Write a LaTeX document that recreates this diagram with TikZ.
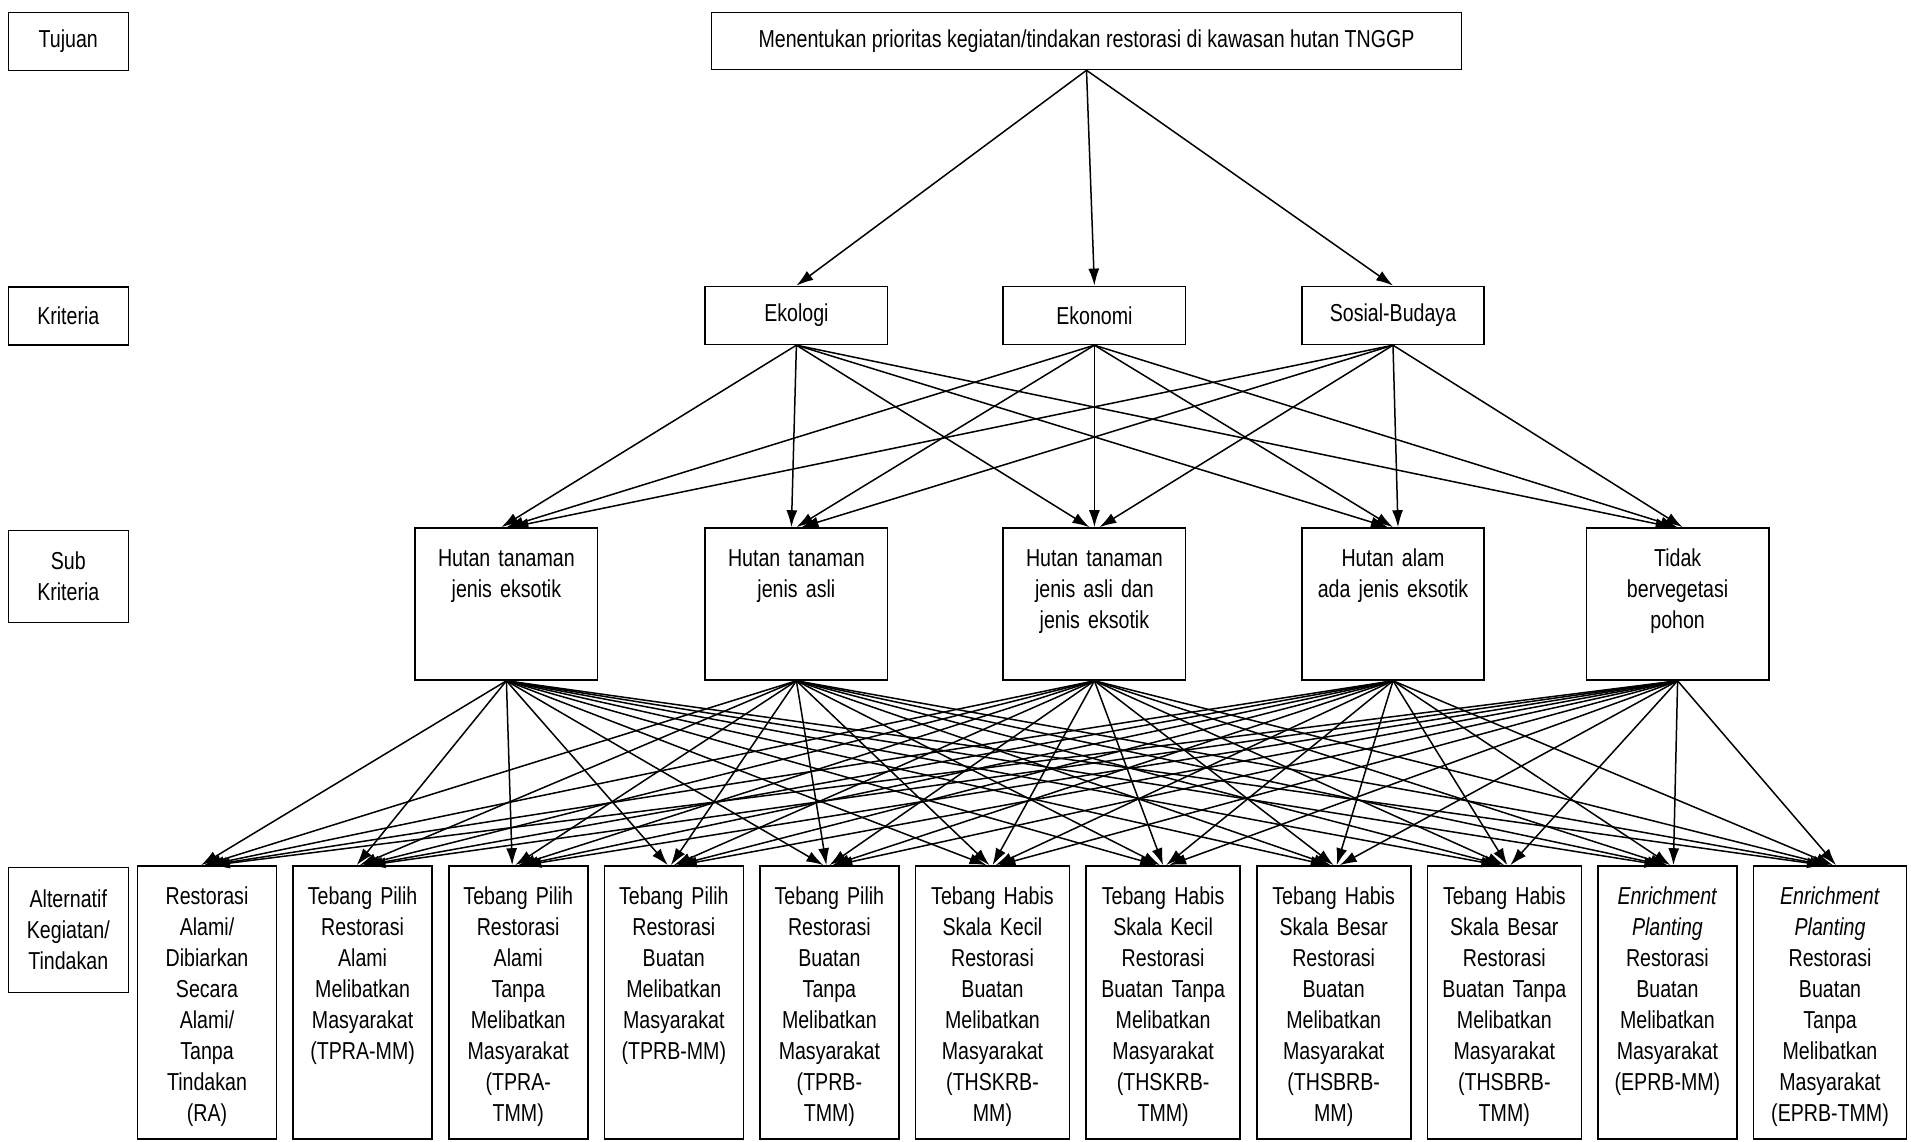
\documentclass[tikz,border=0pt]{standalone}
\usepackage{fontspec}
\setmainfont{Liberation Sans}[FakeStretch=0.8]
\usetikzlibrary{arrows.meta,positioning}

\begin{document}
\begin{tikzpicture}[x=1pt,y=-1pt]
        \tikzset{lbox/.style= {draw, line width=1.6pt, align=center, minimum width=120pt, font=\fontsize{24.5}{31}\selectfont},
        kbox/.style= {draw, line width=1.6pt, align=center, minimum width=182.5pt, minimum height=58pt, font=\fontsize{24.5}{31}\selectfont},
        sbox/.style= {draw, line width=1.6pt, align=center, text width=182.5pt, inner xsep=0pt, inner ysep=0pt,
                      text height=38pt, text depth=114pt, font=\fontsize{24.5}{31}\selectfont},
        abox/.style= {draw, line width=1.6pt, align=center, text width=139pt, inner xsep=0pt, inner ysep=0pt,
                      text height=38pt, text depth=235pt, font=\fontsize{24.5}{31}\selectfont},
        conn/.style={draw, line width=1.5pt, -{Latex[length=17pt,width=11pt]}}
        }
        \useasboundingbox (0,0) rectangle (1911,1142);

        % level labels
        \node [lbox, minimum height=58pt] (l_tujuan) at (68.3,41.5) {Tujuan};
        \node [lbox, minimum height=58pt] (l_kriteria) at (68.3,316) {Kriteria};
        \node [lbox, minimum height=92pt] (l_sub) at (68.3,576.5) {Sub\\Kriteria};
        \node [lbox, minimum height=125pt] (l_alt) at (68.3,930) {Alternatif\\Kegiatan/\\Tindakan};

        \node [kbox, minimum width=750pt, minimum height=57pt] (goal) at (1086.5,41) {Menentukan prioritas kegiatan/tindakan restorasi di kawasan hutan TNGGP};

        % sub kriteria
        \node [sbox] (s1) at (506.4,604) {Hutan tanaman\\jenis eksotik};
        \node [sbox, right=105.9pt of s1] (s2) {Hutan tanaman\\jenis asli};
        \node [sbox, right=113.9pt of s2] (s3) {Hutan tanaman\\jenis asli dan\\jenis eksotik};
        \node [sbox, right=114.5pt of s3] (s4) {Hutan alam\\ada jenis eksotik};
        \node [sbox, right=100.5pt of s4] (s5) {Tidak\\bervegetasi\\pohon};

        % kriteria
        \node [kbox, above=182pt of s2] (k1) {Ekologi};
        \node [kbox, above=182pt of s3] (k2) {Ekonomi};
        \node [kbox, above=182pt of s4] (k3) {Sosial-Budaya};

        % alternatif
        \node [abox] (a1) at (207,1002.5) {Restorasi\\Alami/\\Dibiarkan\\Secara\\Alami/\\Tanpa\\Tindakan\\(RA)};
        \node [abox, right=15pt of a1] (a2) {Tebang Pilih\\Restorasi\\Alami\\Melibatkan\\Masyarakat\\(TPRA-MM)};
        \node [abox, right=15pt of a2] (a3) {Tebang Pilih\\Restorasi\\Alami\\Tanpa\\Melibatkan\\Masyarakat\\(TPRA-\\TMM)};
        \node [abox, right=15pt of a3] (a4) {Tebang Pilih\\Restorasi\\Buatan\\Melibatkan\\Masyarakat\\(TPRB-MM)};
        \node [abox, right=15pt of a4] (a5) {Tebang Pilih\\Restorasi\\Buatan\\Tanpa\\Melibatkan\\Masyarakat\\(TPRB-\\TMM)};
        \node [abox, text width=154pt, right=15pt of a5] (a6) {Tebang Habis\\Skala Kecil\\Restorasi\\Buatan\\Melibatkan\\Masyarakat\\(THSKRB-\\MM)};
        \node [abox, text width=154pt, right=15pt of a6] (a7) {Tebang Habis\\Skala Kecil\\Restorasi\\Buatan Tanpa\\Melibatkan\\Masyarakat\\(THSKRB-\\TMM)};
        \node [abox, text width=154pt, right=15pt of a7] (a8) {Tebang Habis\\Skala Besar\\Restorasi\\Buatan\\Melibatkan\\Masyarakat\\(THSBRB-\\MM)};
        \node [abox, text width=154pt, right=15pt of a8] (a9) {Tebang Habis\\Skala Besar\\Restorasi\\Buatan Tanpa\\Melibatkan\\Masyarakat\\(THSBRB-\\TMM)};
        \node [abox, right=15pt of a9] (a10) {\textit{Enrichment}\\\textit{Planting}\\Restorasi\\Buatan\\Melibatkan\\Masyarakat\\(EPRB-MM)};
        \node [abox, text width=153pt, right=15pt of a10] (a11) {\textit{Enrichment}\\\textit{Planting}\\Restorasi\\Buatan\\Tanpa\\Melibatkan\\Masyarakat\\(EPRB-TMM)};

%% paths
        \path (goal.south) edge[conn] (k1.north)
              (goal.south) edge[conn] (k2.north)
              (goal.south) edge[conn] (k3.north);
        \foreach \i in {1,2,3}
            \foreach \j in {1,...,5}
                \path (k\i.south) edge[conn] ([xshift={(\i-2)*5pt}]s\j.north);
        \foreach \i in {1,...,5}
            \foreach \j in {1,...,11}
                \path (s\i.south) edge[conn] ([xshift={(\i-3)*3pt}]a\j.north);
    \end{tikzpicture}
\end{document}
